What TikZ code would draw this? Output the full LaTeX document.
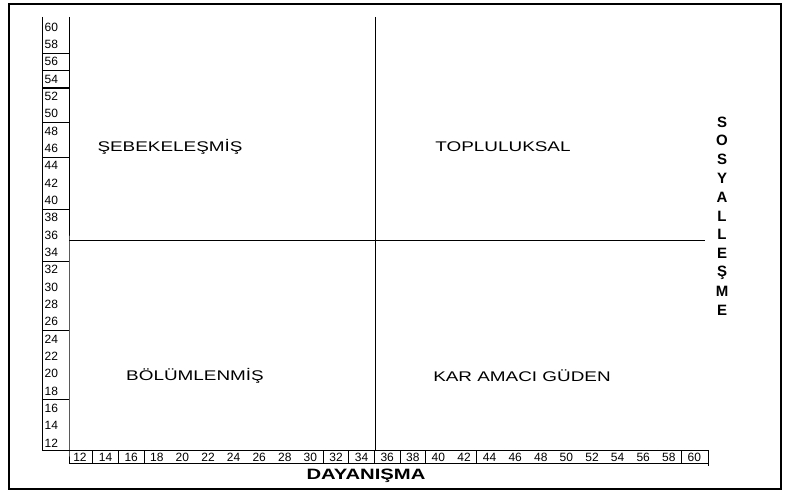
\documentclass[tikz,border=0pt]{standalone}
\usepackage{fontspec}
\setmainfont{Liberation Sans}
\newfontfamily\widefont[FakeStretch=1.35]{Liberation Sans}
\usetikzlibrary{positioning}

\begin{document}
\begin{tikzpicture}[x=1pt, y=-1pt,
    quadlabel/.style={font=\widefont\fontsize{14}{14}\selectfont},
    ticklabel/.style={font=\fontsize{12}{12}\selectfont, inner sep=0pt},
    axislabel/.style={font=\widefont\bfseries\fontsize{15}{15}\selectfont, inner sep=0pt},
    vlabel/.style={font=\bfseries\fontsize{15}{15}\selectfont, inner sep=0pt},
    thinline/.style={line width=0.9pt}]
    \useasboundingbox (0,0) rectangle (786,494);
    \draw[line width=2pt] (9,4) rectangle (781,489);

    \coordinate (colTL) at (42,17);
    \coordinate (colTR) at (69,17);
    \coordinate (colBL) at (42,450);
    \coordinate (colBR) at (69,450);
    \coordinate (rowBL) at (69,463);
    \coordinate (rowTR) at (708,450);
    \coordinate (rowBR) at (708,463);
    \coordinate (rowTick) at (708,466);
    \coordinate (midTop) at (375,17);
    \coordinate (midBot) at (375,450);
    \coordinate (hLeft) at (69,240);
    \coordinate (hRight) at (705,240);

    % scale column and row
    \draw[thinline] (colTL) -- (colBL) -- (rowTR) -- (rowTick);
    \draw[thinline] (colTR) -- (colBR) -- (rowBL) -- (rowBR);

    % quadrant lines
    \draw[thinline] (midTop) -- (midBot);
    \draw[thinline] (hLeft) -- (hRight);

    % left scale
    \foreach \i in {0,...,24} {
        \pgfmathtruncatemacro\val{60-2*\i}
        \node[ticklabel, anchor=west] (lv\i) at (44.5,27+17.33*\i) {\val};
    }
    \foreach \i in {1,2,5,7,10,13,17,21}
        \draw[thinline] (42,27+17.33*\i+8.7) -- (69,27+17.33*\i+8.7);
    \draw[line width=1.8pt] (42,27+17.33*3+8.7) -- (69,27+17.33*3+8.7);

    % bottom scale
    \foreach \i in {0,...,24} {
        \pgfmathtruncatemacro\val{12+2*\i}
        \node[ticklabel] (bv\i) at (80+25.6*\i,457) {\val};
    }
    \foreach \i in {0,1,2,9,10,11,12,13,15,23}
        \draw[thinline] (80+25.6*\i+12.8,450) -- (80+25.6*\i+12.8,463);

    % quadrants
    \node[quadlabel] (netw) at (170,147) {ŞEBEKELEŞMİŞ};
    \node[quadlabel] (comm) at (503,147) {TOPLULUKSAL};
    \node[quadlabel] (frag) at (195,376) {BÖLÜMLENMİŞ};
    \node[quadlabel] (merc) at (522,376) {KAR AMACI GÜDEN};

    % axis titles
    \node[axislabel] (xtitle) at (366,476) {DAYANIŞMA};
    \foreach \ch [count=\i from 0] in {S,O,S,Y,A,L,L,E,Ş,M,E}
        \node[vlabel] (yt\i) at (722,122+18.8*\i) {\ch};
\end{tikzpicture}
\end{document}
